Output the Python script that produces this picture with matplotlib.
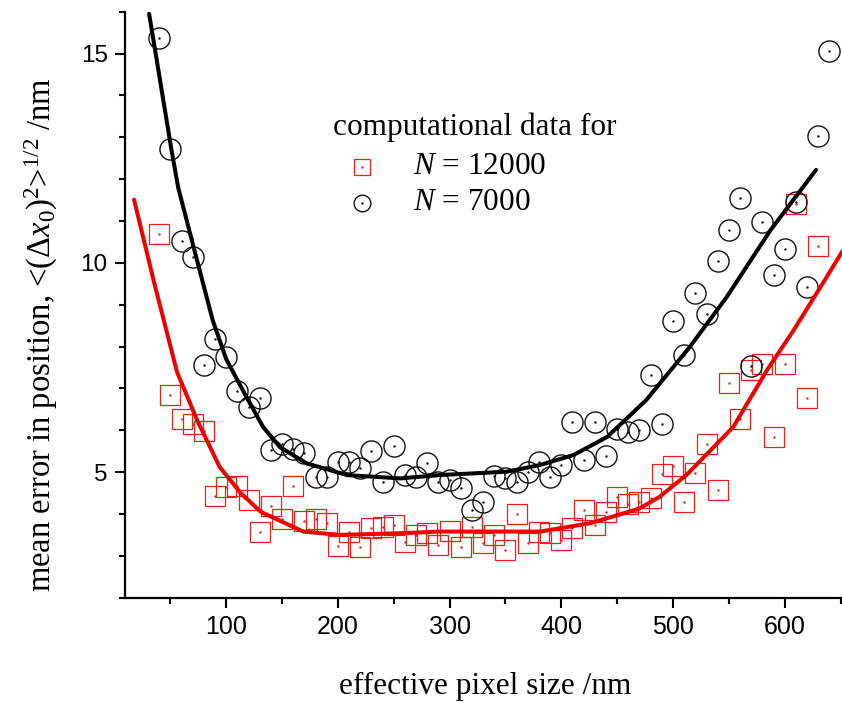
import matplotlib
matplotlib.use("Agg")
import matplotlib.pyplot as plt
from matplotlib.ticker import MultipleLocator

# ---------------- data ----------------
x_black = list(range(40, 641, 10))
y_black = [15.36, 12.73, 10.53, 10.13, 7.55, 8.19, 7.75, 6.93, 6.56, 6.76,
           5.52, 5.68, 5.56, 5.45, 4.89, 4.89, 5.25, 5.25, 5.11, 5.50,
           4.77, 5.62, 4.93, 4.89, 5.21, 4.77, 4.81, 4.61, 4.09, 4.29,
           4.90, 4.86, 4.77, 5.01, 5.25, 4.89, 5.17, 6.20, 5.29, 6.20,
           5.39, 6.04, 5.96, 6.00, 7.31, 6.16, 8.62, 7.79, 9.28, 8.78,
           10.05, 10.79, 11.55, 7.53, 10.97, 9.70, 10.33, 11.45, 9.42, 13.04,
           15.06]

x_red = list(range(40, 631, 10))
y_red = [10.69, 6.85, 6.26, 6.14, 5.98, 4.44, 4.65, 4.67, 4.33, 3.58,
         4.20, 3.88, 4.67, 3.83, 3.88, 3.78, 3.24, 3.58, 3.20, 3.66,
         3.70, 3.74, 3.34, 3.50, 3.54, 3.26, 3.60, 3.22, 3.70, 3.30,
         3.50, 3.14, 3.99, 3.30, 3.58, 3.54, 3.38, 3.66, 4.09, 3.74,
         4.05, 4.41, 4.25, 4.29, 4.39, 4.95, 5.14, 4.29, 4.98, 5.67,
         4.57, 7.14, 6.26, 7.45, 7.59, 5.84, 7.59, 11.41, 6.76, 10.41]

fit_black_x = [31, 51, 57, 74, 88, 100, 118, 133, 148, 172, 208, 256, 291,
               351, 381, 411, 441, 476, 515, 548, 587, 628]
fit_black_y = [15.95, 12.70, 11.80, 10.05, 8.62, 7.70, 6.80, 6.08, 5.60, 5.21,
               4.93, 4.85, 4.93, 5.01, 5.17, 5.41, 5.84, 6.72, 7.99, 9.18,
               10.77, 12.22]

fit_red_x = [17.5, 35, 56, 74, 94, 113, 131, 169, 202, 256, 291, 381, 426,
             470, 488, 512, 554, 584, 608, 632, 652]
fit_red_y = [11.51, 9.58, 7.39, 6.24, 5.13, 4.50, 4.05, 3.58, 3.50, 3.54,
             3.58, 3.58, 3.78, 4.13, 4.41, 4.93, 6.08, 7.43, 8.39, 9.42, 10.29]

x_ticks = [100, 200, 300, 400, 500, 600]
y_ticks = [5, 10, 15]

legend_title = "computational data for"
legend_labels = ["$N$ = 12000", "$N$ = 7000"]
xlabel = "effective pixel size /nm"
ylabel = r"mean error in position, <($\Delta x_0$)$^2$>$^{1/2}$ /nm"

# ---------------- style ----------------
plt.rcParams["mathtext.fontset"] = "custom"
plt.rcParams["mathtext.rm"] = "Liberation Serif"
plt.rcParams["mathtext.it"] = "Liberation Serif:italic"
plt.rcParams["mathtext.sf"] = "Liberation Serif"

W, H = 842, 703
fig = plt.figure(figsize=(W / 100, H / 100), dpi=100)
ax = fig.add_axes([125 / W, 1 - 597.7 / H, 1 - 125 / W, (597.7 - 11.7) / H])

RED = "#e8211d"
BLACK = "#111111"

ax.plot(x_red, y_red, ls="none", marker="s", ms=13.7, mfc="none",
        mec=RED, mew=0.9, zorder=2)
ax.plot(x_red, y_red, ls="none", marker=".", ms=1.5, color=RED, zorder=2)
ax.plot(x_black, y_black, ls="none", marker="o", ms=15.2, mfc="none",
        mec=BLACK, mew=1.0, zorder=3)
ax.plot(x_black, y_black, ls="none", marker=".", ms=1.5, color=BLACK, zorder=3)
ax.plot(fit_red_x, fit_red_y, color="#ee0000", lw=2.9, zorder=4,
        solid_joinstyle="round", solid_capstyle="round")
ax.plot(fit_black_x, fit_black_y, color="black", lw=2.9, zorder=5,
        solid_joinstyle="round", solid_capstyle="round")

ax.set_xlim(9.4, 651.3)
ax.set_ylim(2, 16)
ax.set_xticks(x_ticks)
ax.set_yticks(y_ticks)
ax.xaxis.set_minor_locator(MultipleLocator(50))
ax.yaxis.set_minor_locator(MultipleLocator(1))

for s in ["top", "right"]:
    ax.spines[s].set_visible(False)
for s in ["left", "bottom"]:
    ax.spines[s].set_linewidth(1.6)

ax.tick_params(which="major", direction="out", length=7.5, width=1.5)
ax.tick_params(which="minor", direction="out", length=4.2, width=1.5)
ax.tick_params(axis="x", which="major", pad=5)
ax.tick_params(axis="y", which="major", pad=5)
for lab in ax.get_xticklabels():
    lab.set_fontfamily("Liberation Sans")
    lab.set_fontsize(18)
for lab in ax.get_yticklabels():
    lab.set_fontfamily("Liberation Sans")
    lab.set_fontsize(17.5)

fig.text(485 / W, 1 - 686 / H, xlabel, family="Liberation Serif", fontsize=22.5,
         ha="center", va="center")
fig.text(41 / W, 1 - 335 / H, ylabel, family="Liberation Serif", fontsize=23.5,
         ha="center", va="center", rotation=90)

# legend (manual)
fig.text(333 / W, 1 - 127 / H, legend_title, family="Liberation Serif",
         fontsize=22.5, ha="left", va="center")
fig.text(413 / W, 1 - 167 / H, legend_labels[0], family="Liberation Serif",
         fontsize=22.5, ha="left", va="center")
fig.text(413 / W, 1 - 203 / H, legend_labels[1], family="Liberation Serif",
         fontsize=22.5, ha="left", va="center")
fig.lines.append(plt.Line2D([362 / W], [1 - 167 / H], transform=fig.transFigure,
                            ls="none", marker="s", ms=11.5, mfc="none", mec=RED, mew=0.9))
fig.lines.append(plt.Line2D([362 / W], [1 - 167 / H], transform=fig.transFigure,
                            ls="none", marker=".", ms=1.5, color=RED))
fig.lines.append(plt.Line2D([362 / W], [1 - 203 / H], transform=fig.transFigure,
                            ls="none", marker="o", ms=12, mfc="none", mec=BLACK, mew=1.0))
fig.lines.append(plt.Line2D([362 / W], [1 - 203 / H], transform=fig.transFigure,
                            ls="none", marker=".", ms=1.5, color=BLACK))

fig.savefig("out.png", dpi=100)
